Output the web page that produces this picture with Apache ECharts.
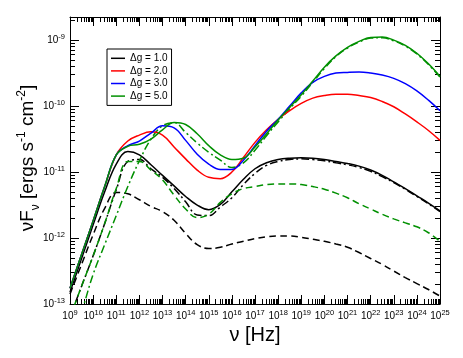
<!DOCTYPE html>
<html>
<head>
<meta charset="utf-8">
<script src="https://cdn.jsdelivr.net/npm/echarts@6/dist/echarts.min.js"></script>
<style>
  html, body { margin: 0; padding: 0; background: #fff; }
  #chart { width: 463px; height: 358px; }
</style>
</head>
<body>
<div id="chart"></div>
<script>
// log10 of frequency nu [Hz]
const logNu = [9, 9.5, 10, 10.5, 11, 11.5, 12, 12.5, 13, 13.5, 14, 14.5, 15, 15.5, 16, 16.5,
  17, 17.5, 18, 18.5, 19, 19.5, 20, 20.5, 21, 21.5, 22, 22.5, 23, 23.5, 24, 24.5, 25]

// log10 of nuF_nu [ergs s^-1 cm^-2]
const dg1Solid = [-12.82, -12.31, -11.80, -11.30, -10.88, -10.69, -10.74, -10.89, -11.05, -11.21, -11.37, -11.50, -11.57, -11.49, -11.30, -11.11,
  -10.95, -10.86, -10.81, -10.79, -10.785, -10.79, -10.81, -10.84, -10.87, -10.91, -10.97, -11.05, -11.15, -11.25, -11.36, -11.47, -11.59]
const dg1DashDot = [-13.20, -12.73, -12.27, -11.78, -11.27, -10.84, -10.81, -10.95, -11.08, -11.25, -11.45, -11.65, -11.66, -11.53, -11.39, -11.19,
  -11.02, -10.90, -10.84, -10.81, -10.80, -10.81, -10.83, -10.86, -10.89, -10.93, -10.99, -11.07, -11.16, -11.26, -11.37, -11.48, -11.60]
const dg1Dashed = [-12.85, -12.40, -11.95, -11.55, -11.31, -11.33, -11.42, -11.52, -11.60, -11.73, -11.93, -12.10, -12.16, -12.14, -12.09, -12.05,
  -12.01, -11.98, -11.97, -11.97, -11.99, -12.02, -12.05, -12.09, -12.14, -12.22, -12.31, -12.40, -12.50, -12.60, -12.69, -12.78, -12.88]
const dg2Solid = [-12.76, -12.25, -11.74, -11.22, -10.74, -10.53, -10.44, -10.39, -10.44, -10.62, -10.80, -10.97, -11.08, -11.10, -11.00, -10.78,
  -10.55, -10.36, -10.20, -10.07, -9.96, -9.88, -9.84, -9.82, -9.82, -9.84, -9.87, -9.93, -10.01, -10.12, -10.24, -10.37, -10.52]
const dg3Solid = [-12.76, -12.25, -11.74, -11.22, -10.74, -10.60, -10.53, -10.41, -10.30, -10.33, -10.52, -10.73, -10.88, -10.96, -10.96, -10.82,
  -10.60, -10.38, -10.20, -10.00, -9.80, -9.64, -9.55, -9.50, -9.49, -9.485, -9.50, -9.53, -9.58, -9.66, -9.77, -9.91, -10.07]
const dg5Solid = [-12.76, -12.25, -11.74, -11.22, -10.74, -10.61, -10.58, -10.50, -10.36, -10.25, -10.28, -10.42, -10.60, -10.74, -10.81, -10.79,
  -10.62, -10.42, -10.21, -10.02, -9.83, -9.62, -9.41, -9.24, -9.11, -9.02, -8.96, -8.955, -9.00, -9.08, -9.20, -9.36, -9.55]
const dg5DashDot = [-13.60, -13.12, -12.55, -12.10, -11.66, -11.22, -10.83, -10.50, -10.30, -10.25, -10.40, -10.56, -10.70, -10.82, -10.93, -10.86,
  -10.67, -10.45, -10.24, -10.04, -9.85, -9.64, -9.43, -9.25, -9.12, -9.03, -8.97, -8.965, -9.01, -9.09, -9.21, -9.37, -9.56]
const dg5Dashed = [-13.20, -12.73, -12.27, -11.78, -11.25, -10.84, -10.84, -10.97, -11.12, -11.35, -11.56, -11.69, -11.64, -11.46, -11.33, -11.25,
  -11.22, -11.19, -11.18, -11.18, -11.19, -11.22, -11.26, -11.32, -11.39, -11.48, -11.56, -11.64, -11.71, -11.77, -11.83, -11.92, -12.05]

const legendNames = ['Δg = 1.0', 'Δg = 2.0', 'Δg = 3.0', 'Δg = 5.0']
const xTickExp = [9, 10, 11, 12, 13, 14, 15, 16, 17, 18, 19, 20, 21, 22, 23, 24, 25]
const yTickExp = [-13, -12, -11, -10, -9]

const X_MIN = 9, X_MAX = 25, Y_MIN = -13, Y_MAX = -8.65
const FONT = 'Liberation Sans, Arial, Helvetica, sans-serif'
const GREEN = '#009000'
const DASH = [7, 4]
const DASH_DOT = [8, 3, 2, 3]

// log-spaced minor ticks (2..9 within each decade)
const minorTicks = (lo, hi) => {
  const out = []
  for (let n = Math.floor(lo); n < hi; n++) {
    for (let k = 2; k <= 9; k++) {
      const v = n + Math.log10(k)
      if (v > lo && v < hi) out.push(v)
    }
  }
  return out
}

const tickLabelRich = {
  b: { fontSize: 10, lineHeight: 14, color: '#000', fontFamily: FONT },
  s: { fontSize: 7.5, lineHeight: 9, verticalAlign: 'top', color: '#000', fontFamily: FONT }
}
const powLabel = v => '{b|10}{s|' + Math.round(v) + '}'

const axisLine = { show: true, onZero: false, lineStyle: { color: '#000', width: 1 } }
const noLine = { show: false, onZero: false }

const makeAxis = (min, max, position, ticks, len, withLine) => ({
  type: 'value',
  min, max, position,
  axisLine: withLine ? axisLine : noLine,
  axisTick: { show: true, inside: true, length: len, customValues: ticks, lineStyle: { color: '#000', width: 1 } },
  axisLabel: { show: false },
  splitLine: { show: false }
})

const xMinor = minorTicks(X_MIN, X_MAX)
const yMinor = minorTicks(Y_MIN, Y_MAX)

const xAxes = [
  Object.assign(makeAxis(X_MIN, X_MAX, 'bottom', xTickExp, 9, true), {
    axisLabel: { show: true, customValues: xTickExp, margin: 5, formatter: powLabel, rich: tickLabelRich },
    name: 'ν [Hz]', nameLocation: 'middle', nameGap: 18,
    nameTextStyle: { fontSize: 20, color: '#000', fontFamily: FONT }
  }),
  makeAxis(X_MIN, X_MAX, 'bottom', xMinor, 5, false),
  makeAxis(X_MIN, X_MAX, 'top', xTickExp, 9, true),
  makeAxis(X_MIN, X_MAX, 'top', xMinor, 5, false)
]
const yAxes = [
  Object.assign(makeAxis(Y_MIN, Y_MAX, 'left', yTickExp, 9, true), {
    axisLabel: { show: true, customValues: yTickExp, margin: 5, formatter: powLabel, rich: tickLabelRich }
  }),
  makeAxis(Y_MIN, Y_MAX, 'left', yMinor, 5, false),
  makeAxis(Y_MIN, Y_MAX, 'right', yTickExp, 9, true),
  makeAxis(Y_MIN, Y_MAX, 'right', yMinor, 5, false)
]

const curve = (name, ys, color, dash) => ({
  name,
  type: 'line',
  xAxisIndex: 0,
  yAxisIndex: 0,
  data: logNu.map((x, i) => [x, ys[i]]),
  symbol: 'none',
  showSymbol: false,
  smooth: 0.4,
  clip: true,
  silent: true,
  lineStyle: { color, width: 1.5, type: dash || 'solid' },
  itemStyle: { color }
})

const chart = echarts.init(document.getElementById('chart'), null, { renderer: 'canvas' })
chart.setOption({
  animation: false,
  backgroundColor: '#fff',
  grid: { left: 70, right: 23, top: 17, bottom: 54, containLabel: false },
  xAxis: xAxes,
  yAxis: yAxes,
  legend: {
    data: legendNames,
    orient: 'vertical',
    left: 107,
    top: 49,
    icon: 'rect',
    itemWidth: 14,
    itemHeight: 1.5,
    itemGap: 0,
    padding: [3, 4, 3, 4],
    borderColor: '#000',
    borderWidth: 1,
    borderRadius: 0,
    backgroundColor: '#fff',
    selectedMode: false,
    textStyle: { fontSize: 10, lineHeight: 12.6, color: '#000', fontFamily: FONT }
  },
  graphic: [{
    type: 'text',
    x: 28,
    y: 158,
    rotation: Math.PI / 2,
    style: {
      text: '{m|νF}{sub|ν}{m| [ergs s}{sup|-1}{m| cm}{sup|-2}{m|]}',
      align: 'center',
      verticalAlign: 'middle',
      rich: {
        m: { fontSize: 19, lineHeight: 28, fill: '#000', fontFamily: FONT },
        sup: { fontSize: 12, lineHeight: 28, verticalAlign: 'top', fill: '#000', fontFamily: FONT, padding: [2, 0, 0, 0] },
        sub: { fontSize: 12, lineHeight: 20, verticalAlign: 'bottom', fill: '#000', fontFamily: FONT }
      }
    }
  }],
  series: [
    curve('Δg = 1.0', dg1Solid, '#000'),
    curve('Δg = 1.0 dash-dot', dg1DashDot, '#000', DASH_DOT),
    curve('Δg = 1.0 dashed', dg1Dashed, '#000', DASH),
    curve('Δg = 5.0 dashed', dg5Dashed, GREEN, DASH),
    curve('Δg = 5.0 dash-dot', dg5DashDot, GREEN, DASH_DOT),
    curve('Δg = 2.0', dg2Solid, '#ff0000'),
    curve('Δg = 3.0', dg3Solid, '#0000ff'),
    curve('Δg = 5.0', dg5Solid, GREEN)
  ]
})
</script>
</body>
</html>
